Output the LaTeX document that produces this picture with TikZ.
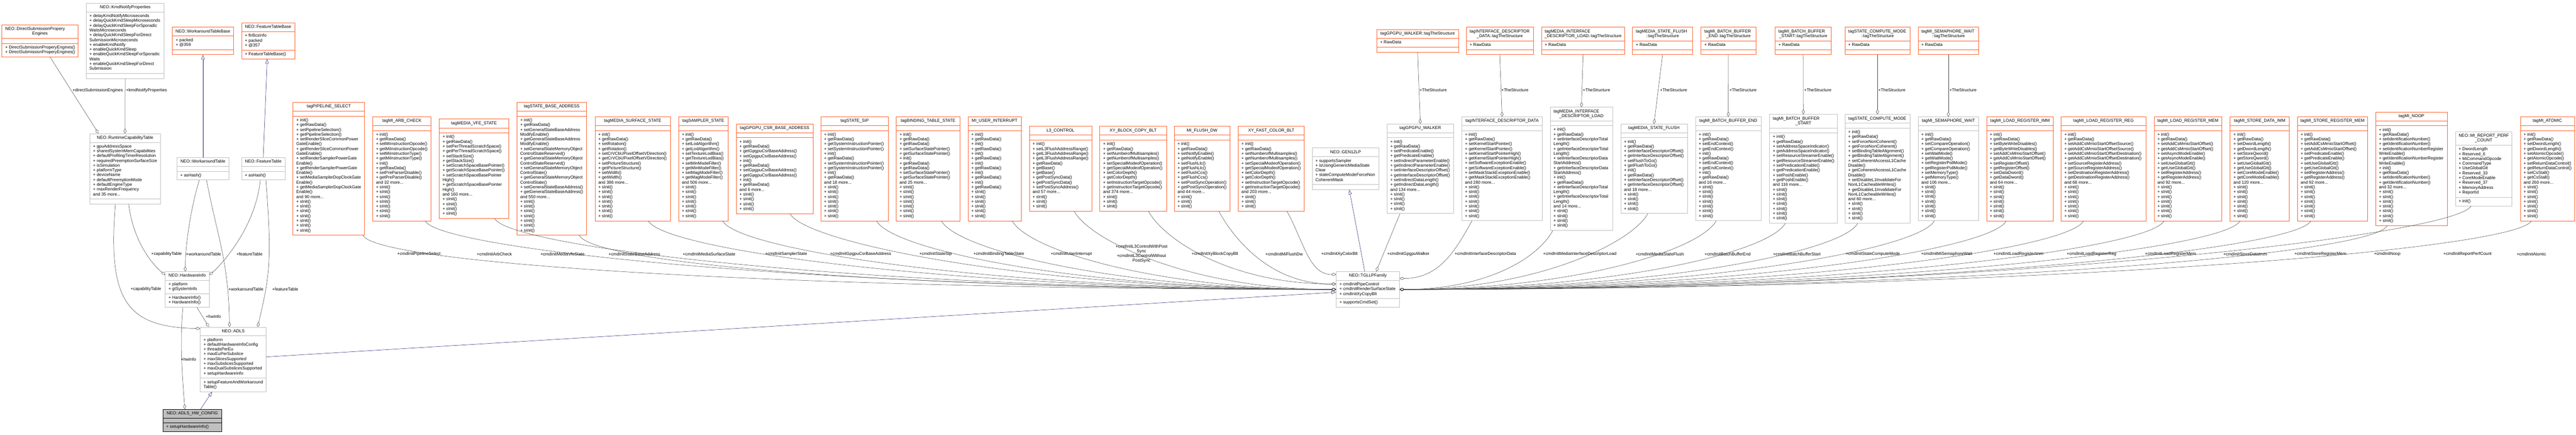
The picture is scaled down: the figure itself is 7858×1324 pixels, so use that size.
\documentclass[tikz,border=0pt]{standalone}
\usepackage{fontspec}
\setmainfont{Liberation Sans}
\usetikzlibrary{calc,arrows.meta,shapes.multipart}

\definecolor{boxgray}{HTML}{BFBFBF}
\definecolor{boxorange}{HTML}{FF5F29}
\definecolor{edgegray}{HTML}{404040}
\definecolor{navyline}{HTML}{191970}

\newlength{\colw}
\newcommand{\umlfont}{\fontsize{13}{14.6}\selectfont}
\newcommand{\firstln}[1]{\makebox[\colw][l]{#1}}
\newcommand{\sinitiii}{+ sInit()\\+ sInit()\\+ sInit()}
\newcommand{\sinitiv}{\sinitiii\\+ sInit()}
\newcommand{\sinitvi}{\sinitiii\\\sinitiii}
\newcommand{\sinitvii}{\sinitvi\\+ sInit()}

\tikzset{
  umlnode/.style={rectangle split, rectangle split parts=3, draw, fill=white,
    inner xsep=10pt, inner ysep=5.5pt, line width=1pt, font=\umlfont},
  graybox/.style={umlnode, draw=boxgray},
  orangebox/.style={umlnode, draw=boxorange, line width=1.2pt},
  focusbox/.style={umlnode, draw=black, fill=boxgray},
  has/.style={draw=edgegray, line width=0.8pt, {Diamond[open,length=15pt,width=9pt]}-},
  isa/.style={draw=navyline, line width=0.8pt, {Triangle[open,length=14pt,width=10pt]}-},
  lbl/.style={font=\umlfont, inner sep=1pt}
}

% class box: [style]{name}{x,y}{width}{title}{attributes}{methods}
\newcommand{\umlclass}[7][graybox]{%
  \setlength{\colw}{\dimexpr #4pt-20pt\relax}%
  \node[#1] (#2) at (#3) {\makebox[\colw][c]{\umlfont\begin{tabular}{@{}c@{}}#5\end{tabular}}%
    \nodepart{two}\makebox[\colw][l]{\umlfont\begin{tabular}{@{}l@{}}#6\end{tabular}}%
    \nodepart{three}\makebox[\colw][l]{\umlfont\begin{tabular}{@{}l@{}}#7\end{tabular}}};%
}

\begin{document}
\begin{tikzpicture}[x=1pt, y=-1pt]

  \fill[white] (0,0) rectangle (7858,1324);
  \useasboundingbox (0,0) rectangle (7858,1324);

  % top row: tables and structures
  \umlclass[orangebox]{dsengines}{122,124.5}{232}{\firstln{NEO::DirectSubmissionPropery}\\Engines}{}{+ DirectSubmissionProperyEngines()\\+ DirectSubmissionProperyEngines()}
  \umlclass{kmdnotify}{382,124.5}{238}{NEO::KmdNotifyProperties}{+ delayKmdNotifyMicroseconds\\+ delayQuickKmdSleepMicroseconds\\+ delayQuickKmdSleepForSporadic\\WaitsMicroseconds\\+ delayQuickKmdSleepForDirect\\SubmissionMicroseconds\\+ enableKmdNotify\\+ enableQuickKmdSleep\\+ enableQuickKmdSleepForSporadic\\Waits\\+ enableQuickKmdSleepForDirect\\Submission}{}
  \umlclass[orangebox]{wkbase}{619,124.5}{186}{NEO::WorkaroundTableBase}{+ packed\\+ @359}{}
  \umlclass[orangebox]{ftbase}{818,124.5}{162}{NEO::FeatureTableBase}{+ ftrBcsInfo\\+ packed\\+ @357}{+ FeatureTableBase()}
  \umlclass[orangebox]{tswalker}{4324.5,124.5}{249}{tagGPGPU\_WALKER::tagTheStructure}{+ RawData}{}
  \umlclass[orangebox]{tsiddata}{4575,124.5}{204}{\firstln{tagINTERFACE\_DESCRIPTOR}\\\_DATA::tagTheStructure}{+ RawData}{}
  \umlclass[orangebox]{tsmidload}{4829,124.5}{254}{\firstln{tagMEDIA\_INTERFACE}\\\_DESCRIPTOR\_LOAD::tagTheStructure}{+ RawData}{}
  \umlclass[orangebox]{tsmsflush}{5071.5,124.5}{183}{\firstln{tagMEDIA\_STATE\_FLUSH}\\::tagTheStructure}{+ RawData}{}
  \umlclass[orangebox]{tsbbend}{5272.5,124.5}{167}{\firstln{tagMI\_BATCH\_BUFFER}\\\_END::tagTheStructure}{+ RawData}{}
  \umlclass[orangebox]{tsbbstart}{5500.5,124.5}{171}{\firstln{tagMI\_BATCH\_BUFFER}\\\_START::tagTheStructure}{+ RawData}{}
  \umlclass[orangebox]{tscompute}{5727,124.5}{198}{\firstln{tagSTATE\_COMPUTE\_MODE}\\::tagTheStructure}{+ RawData}{}
  \umlclass[orangebox]{tssemwait}{5943.5,124.5}{185}{\firstln{tagMI\_SEMAPHORE\_WAIT}\\::tagTheStructure}{+ RawData}{}

  % middle row
  \umlclass{rtcap}{381.5,514}{215}{NEO::RuntimeCapabilityTable}{+ gpuAddressSpace\\+ sharedSystemMemCapabilities\\+ defaultProfilingTimerResolution\\+ requiredPreemptionSurfaceSize\\+ isSimulation\\+ platformType\\+ deviceName\\+ defaultPreemptionMode\\+ defaultEngineType\\+ maxRenderFrequency\\and 35 more...}{}
  \umlclass{wktable}{619,514}{158}{NEO::WorkaroundTable}{}{+ asHash()}
  \umlclass{fttable}{803,514}{132}{NEO::FeatureTable}{}{+ asHash()}
  \umlclass[orangebox]{pipesel}{1003,514}{218}{tagPIPELINE\_SELECT}{}{+ init()\\+ getRawData()\\+ setPipelineSelection()\\+ getPipelineSelection()\\+ setRenderSliceCommonPower\\GateEnable()\\+ getRenderSliceCommonPower\\GateEnable()\\+ setRenderSamplerPowerGate\\Enable()\\+ getRenderSamplerPowerGate\\Enable()\\+ setMediaSamplerDopClockGate\\Enable()\\+ getMediaSamplerDopClockGate\\Enable()\\and 90 more...\\\sinitvii}
  \umlclass[orangebox]{arbchk}{1226,514}{178}{tagMI\_ARB\_CHECK}{}{+ init()\\+ getRawData()\\+ setMiInstructionOpcode()\\+ getMiInstructionOpcode()\\+ setMiInstructionType()\\+ getMiInstructionType()\\+ init()\\+ getRawData()\\+ setPreParserDisable()\\+ getPreParserDisable()\\and 32 more...\\\sinitvii}
  \umlclass[orangebox]{vfestate}{1446,514}{212}{tagMEDIA\_VFE\_STATE}{}{+ init()\\+ getRawData()\\+ setPerThreadScratchSpace()\\+ getPerThreadScratchSpace()\\+ setStackSize()\\+ getStackSize()\\+ setScratchSpaceBasePointer()\\+ getScratchSpaceBasePointer()\\+ setScratchSpaceBasePointer\\High()\\+ getScratchSpaceBasePointer\\High()\\and 160 more...\\\sinitiv}
  \umlclass[orangebox]{sbaddr}{1683,514}{212}{tagSTATE\_BASE\_ADDRESS}{}{+ init()\\+ getRawData()\\+ setGeneralStateBaseAddress\\ModifyEnable()\\+ getGeneralStateBaseAddress\\ModifyEnable()\\+ setGeneralStateMemoryObject\\ControlStateReserved()\\+ getGeneralStateMemoryObject\\ControlStateReserved()\\+ setGeneralStateMemoryObject\\ControlState()\\+ getGeneralStateMemoryObject\\ControlState()\\+ setGeneralStateBaseAddress()\\+ getGeneralStateBaseAddress()\\and 550 more...\\\sinitvii}
  \umlclass[orangebox]{surfstate}{1930,514}{230}{tagMEDIA\_SURFACE\_STATE}{}{+ init()\\+ getRawData()\\+ setRotation()\\+ getRotation()\\+ setCrVCbUPixelOffsetVDirection()\\+ getCrVCbUPixelOffsetVDirection()\\+ setPictureStructure()\\+ getPictureStructure()\\+ setWidth()\\+ getWidth()\\and 386 more...\\\sinitvii}
  \umlclass[orangebox]{sampler}{2145.5,514}{151}{tagSAMPLER\_STATE}{}{+ init()\\+ getRawData()\\+ setLodAlgorithm()\\+ getLodAlgorithm()\\+ setTextureLodBias()\\+ getTextureLodBias()\\+ setMinModeFilter()\\+ getMinModeFilter()\\+ setMagModeFilter()\\+ getMagModeFilter()\\and 506 more...\\\sinitvii}
  \umlclass[orangebox]{csrbase}{2363,514}{234}{tagGPGPU\_CSR\_BASE\_ADDRESS}{}{+ init()\\+ getRawData()\\+ getGpgpuCsrBaseAddress()\\+ setGpgpuCsrBaseAddress()\\+ init()\\+ getRawData()\\+ setGpgpuCsrBaseAddress()\\+ getGpgpuCsrBaseAddress()\\+ init()\\+ getRawData()\\and 6 more...\\\sinitiv}
  \umlclass[orangebox]{statesip}{2607,514}{206}{tagSTATE\_SIP}{}{+ init()\\+ getRawData()\\+ getSystemInstructionPointer()\\+ setSystemInstructionPointer()\\+ init()\\+ getRawData()\\+ setSystemInstructionPointer()\\+ getSystemInstructionPointer()\\+ init()\\+ getRawData()\\and 18 more...\\\sinitvii}
  \umlclass[orangebox]{bindtable}{2831,514}{194}{tagBINDING\_TABLE\_STATE}{}{+ init()\\+ getRawData()\\+ getRawData()\\+ setSurfaceStatePointer()\\+ getSurfaceStatePointer()\\+ init()\\+ getRawData()\\+ getRawData()\\+ setSurfaceStatePointer()\\+ getSurfaceStatePointer()\\and 25 more...\\\sinitvii}
  \umlclass[orangebox]{userint}{3034,514}{162}{MI\_USER\_INTERRUPT}{}{+ init()\\+ getRawData()\\+ init()\\+ getRawData()\\+ init()\\+ getRawData()\\+ init()\\+ getRawData()\\+ init()\\+ getRawData()\\+ init()\\+ getRawData()\\\sinitvi}
  \umlclass[orangebox]{l3ctrl}{3235,514}{190}{L3\_CONTROL}{}{+ init()\\+ setL3FlushAddressRange()\\+ getL3FlushAddressRange()\\+ getL3FlushAddressRange()\\+ getRawData()\\+ getBase()\\+ getBase()\\+ getPostSyncData()\\+ getPostSyncData()\\+ setPostSyncAddress()\\and 57 more...\\\sinitiii}
  \umlclass[orangebox]{xyblock}{3456.5,514}{203}{XY\_BLOCK\_COPY\_BLT}{}{+ init()\\+ getRawData()\\+ setNumberofMultisamples()\\+ getNumberofMultisamples()\\+ setSpecialModeofOperation()\\+ getSpecialModeofOperation()\\+ setColorDepth()\\+ getColorDepth()\\+ setInstructionTargetOpcode()\\+ getInstructionTargetOpcode()\\and 374 more...\\\sinitiii}
  \umlclass[orangebox]{miflush}{3667,514}{170}{MI\_FLUSH\_DW}{}{+ init()\\+ getRawData()\\+ setNotifyEnable()\\+ getNotifyEnable()\\+ setFlushLlc()\\+ getFlushLlc()\\+ setFlushCcs()\\+ getFlushCcs()\\+ setPostSyncOperation()\\+ getPostSyncOperation()\\and 44 more...\\\sinitiii}
  \umlclass[orangebox]{xyfast}{3878,514}{202}{XY\_FAST\_COLOR\_BLT}{}{+ init()\\+ getRawData()\\+ setNumberofMultisamples()\\+ getNumberofMultisamples()\\+ setSpecialModeofOperation()\\+ getSpecialModeofOperation()\\+ setColorDepth()\\+ getColorDepth()\\+ setInstructionTargetOpcode()\\+ getInstructionTargetOpcode()\\and 203 more...\\\sinitiii}
  \umlclass{gen12lp}{4104.5,514}{203}{NEO::GEN12LP}{+ supportsSampler\\+ isUsingGenericMediaState\\Clear\\+ stateComputeModeForceNon\\CoherentMask}{}
  \umlclass{gpgpuwalker}{4332.5,514}{203}{tagGPGPU\_WALKER}{}{+ init()\\+ getRawData()\\+ setPredicateEnable()\\+ getPredicateEnable()\\+ setIndirectParameterEnable()\\+ getIndirectParameterEnable()\\+ setInterfaceDescriptorOffset()\\+ getInterfaceDescriptorOffset()\\+ setIndirectDataLength()\\+ getIndirectDataLength()\\and 134 more...\\\sinitiv}
  \umlclass{iddata}{4582,514}{246}{tagINTERFACE\_DESCRIPTOR\_DATA}{}{+ init()\\+ getRawData()\\+ setKernelStartPointer()\\+ getKernelStartPointer()\\+ setKernelStartPointerHigh()\\+ getKernelStartPointerHigh()\\+ setSoftwareExceptionEnable()\\+ getSoftwareExceptionEnable()\\+ setMaskStackExceptionEnable()\\+ getMaskStackExceptionEnable()\\and 280 more...\\\sinitvii}
  \umlclass{midload}{4824,514}{190}{\firstln{tagMEDIA\_INTERFACE}\\\_DESCRIPTOR\_LOAD}{}{+ init()\\+ getRawData()\\+ setInterfaceDescriptorTotal\\Length()\\+ getInterfaceDescriptorTotal\\Length()\\+ setInterfaceDescriptorData\\StartAddress()\\+ getInterfaceDescriptorData\\StartAddress()\\+ init()\\+ getRawData()\\+ setInterfaceDescriptorTotal\\Length()\\+ getInterfaceDescriptorTotal\\Length()\\and 14 more...\\\sinitiv}
  \umlclass{msflush}{5045.5,514}{203}{tagMEDIA\_STATE\_FLUSH}{}{+ init()\\+ getRawData()\\+ setInterfaceDescriptorOffset()\\+ getInterfaceDescriptorOffset()\\+ setFlushToGo()\\+ getFlushToGo()\\+ init()\\+ getRawData()\\+ setInterfaceDescriptorOffset()\\+ getInterfaceDescriptorOffset()\\and 18 more...\\\sinitiv}
  \umlclass{bbend}{5272,514}{200}{tagMI\_BATCH\_BUFFER\_END}{}{+ init()\\+ getRawData()\\+ setEndContext()\\+ getEndContext()\\+ init()\\+ getRawData()\\+ setEndContext()\\+ getEndContext()\\+ init()\\+ getRawData()\\and 16 more...\\\sinitvii}
  \umlclass{bbstart}{5501,514}{206}{\firstln{tagMI\_BATCH\_BUFFER}\\\_START}{}{+ init()\\+ getRawData()\\+ setAddressSpaceIndicator()\\+ getAddressSpaceIndicator()\\+ setResourceStreamerEnable()\\+ getResourceStreamerEnable()\\+ setPredicationEnable()\\+ getPredicationEnable()\\+ setPoshEnable()\\+ getPoshEnable()\\and 116 more...\\\sinitvii}
  \umlclass{computemode}{5727,514}{198}{tagSTATE\_COMPUTE\_MODE}{}{+ init()\\+ getRawData()\\+ setForceNonCoherent()\\+ getForceNonCoherent()\\+ setBindingTableAlignment()\\+ getBindingTableAlignment()\\+ setCoherentAccessL1Cache\\Disable()\\+ getCoherentAccessL1Cache\\Disable()\\+ setDisableL1InvalidateFor\\NonL1CacheableWrites()\\+ getDisableL1InvalidateFor\\NonL1CacheableWrites()\\and 60 more...\\\sinitiv}
  \umlclass{semwait}{5943.5,514}{185}{tagMI\_SEMAPHORE\_WAIT}{}{+ init()\\+ getRawData()\\+ setCompareOperation()\\+ getCompareOperation()\\+ setWaitMode()\\+ getWaitMode()\\+ setRegisterPollMode()\\+ getRegisterPollMode()\\+ setMemoryType()\\+ getMemoryType()\\and 106 more...\\\sinitvii}
  \umlclass[orangebox]{lrimm}{6162,514}{204}{tagMI\_LOAD\_REGISTER\_IMM}{}{+ init()\\+ getRawData()\\+ setByteWriteDisables()\\+ getByteWriteDisables()\\+ setAddCsMmioStartOffset()\\+ getAddCsMmioStartOffset()\\+ setRegisterOffset()\\+ getRegisterOffset()\\+ setDataDword()\\+ getDataDword()\\and 64 more...\\\sinitvii}
  \umlclass[orangebox]{lrreg}{6416.5,514}{259}{tagMI\_LOAD\_REGISTER\_REG}{}{+ init()\\+ getRawData()\\+ setAddCsMmioStartOffsetSource()\\+ getAddCsMmioStartOffsetSource()\\+ setAddCsMmioStartOffsetDestination()\\+ getAddCsMmioStartOffsetDestination()\\+ setSourceRegisterAddress()\\+ getSourceRegisterAddress()\\+ setDestinationRegisterAddress()\\+ getDestinationRegisterAddress()\\and 68 more...\\\sinitvii}
  \umlclass[orangebox]{lrmem}{6674,514}{206}{tagMI\_LOAD\_REGISTER\_MEM}{}{+ init()\\+ getRawData()\\+ setAddCsMmioStartOffset()\\+ getAddCsMmioStartOffset()\\+ setAsyncModeEnable()\\+ getAsyncModeEnable()\\+ setUseGlobalGtt()\\+ getUseGlobalGtt()\\+ setRegisterAddress()\\+ getRegisterAddress()\\and 92 more...\\\sinitvii}
  \umlclass[orangebox]{sdimm}{6893,514}{180}{tagMI\_STORE\_DATA\_IMM}{}{+ init()\\+ getRawData()\\+ setDwordLength()\\+ getDwordLength()\\+ setStoreQword()\\+ getStoreQword()\\+ setUseGlobalGtt()\\+ getUseGlobalGtt()\\+ setCoreModeEnable()\\+ getCoreModeEnable()\\and 120 more...\\\sinitvii}
  \umlclass[orangebox]{srmem}{7115,514}{214}{tagMI\_STORE\_REGISTER\_MEM}{}{+ init()\\+ getRawData()\\+ setAddCsMmioStartOffset()\\+ getAddCsMmioStartOffset()\\+ setPredicateEnable()\\+ getPredicateEnable()\\+ setUseGlobalGtt()\\+ getUseGlobalGtt()\\+ setRegisterAddress()\\+ getRegisterAddress()\\and 92 more...\\\sinitvii}
  \umlclass[orangebox]{noop}{7356,514}{218}{tagMI\_NOOP}{}{+ init()\\+ getRawData()\\+ setIdentificationNumber()\\+ getIdentificationNumber()\\+ setIdentificationNumberRegister\\WriteEnable()\\+ getIdentificationNumberRegister\\WriteEnable()\\+ init()\\+ getRawData()\\+ setIdentificationNumber()\\+ getIdentificationNumber()\\and 32 more...\\\sinitvii}
  \umlclass{perfcount}{7576,514}{172}{\firstln{NEO::MI\_REPORT\_PERF}\\\_COUNT}{+ DwordLength\\+ Reserved\_6\\+ MiCommandOpcode\\+ CommandType\\+ UseGlobalGtt\\+ Reserved\_33\\+ CoreModeEnable\\+ Reserved\_37\\+ MemoryAddress\\+ ReportId}{+ init()}
  \umlclass[orangebox]{atomic}{7770.5,514}{165}{tagMI\_ATOMIC}{}{+ init()\\+ getRawData()\\+ setDwordLength()\\+ getDwordLength()\\+ setAtomicOpcode()\\+ getAtomicOpcode()\\+ setReturnDataControl()\\+ getReturnDataControl()\\+ setCsStall()\\+ getCsStall()\\and 260 more...\\\sinitvii}

  % lower rows
  \umlclass{hwinfo}{571,881.5}{134}{NEO::HardwareInfo}{+ platform\\+ gtSystemInfo}{+ HardwareInfo()\\+ HardwareInfo()}
  \umlclass{tgllp}{4172.5,881.5}{193}{NEO::TGLLPFamily}{+ cmdInitPipeControl\\+ cmdInitRenderSurfaceState\\+ cmdInitXyCopyBlt}{+ supportsCmdSet()}
  \umlclass{adls}{711.5,1094.5}{201}{NEO::ADLS}{+ platform\\+ defaultHardwareInfoConfig\\+ threadsPerEu\\+ maxEuPerSubslice\\+ maxSlicesSupported\\+ maxSubslicesSupported\\+ maxDualSubslicesSupported\\+ setupHardwareInfo}{+ setupFeatureAndWorkaround\\Table()}
  \umlclass[focusbox]{adlshw}{586.5,1280.5}{179}{NEO::ADLS\_HW\_CONFIG}{}{+ setupHardwareInfo()}

  % runtime table and hardware info members
  \draw[has] ([xshift=-81pt]rtcap.north) -- ([xshift=31pt]dsengines.south);
  \draw[has] (rtcap.north) -- (kmdnotify.south);
  \draw[isa] (wkbase.south) -- (wktable.north);
  \draw[isa] ([xshift=-3pt]ftbase.south) -- (fttable.north);
  \draw[has] ([yshift=-11pt]hwinfo.north west) .. controls +(-35,-30) and +(15,120) .. ([xshift=11pt]rtcap.south);
  \draw[has] ([xshift=-6pt]hwinfo.north) .. controls +(0,-80) and +(-25,80) .. ([xshift=-11pt]wktable.south);
  \draw[has] ([yshift=-11pt]hwinfo.north east) .. controls +(30,-25) and +(-15,150) .. ([xshift=-9pt]fttable.south);

  % ADLS members
  \draw[has] ([xshift=-11.5pt]adls.north) .. controls +(-3,-200) and +(35,180) .. ([xshift=11pt]wktable.south);
  \draw[has] ([xshift=74.5pt]adls.north) .. controls +(35,-150) and +(20,250) .. ([xshift=8pt]fttable.south);
  \draw[has] ([yshift=-5pt]adls.north west) .. controls +(-220,-5) and +(-25,300) .. ([xshift=-29.5pt]rtcap.south);
  \draw[has] ([xshift=-74.5pt]adls.north) -- ([xshift=30pt]hwinfo.south);
  \draw[has] ([xshift=-22.5pt]adlshw.north) .. controls +(-8,-100) and +(-10,100) .. ([xshift=-13pt]hwinfo.south);

  % inheritance
  \draw[isa] ([xshift=-64.5pt]adls.south) -- ([xshift=25.5pt]adlshw.north);
  \draw[isa] ([yshift=-8.5pt]tgllp.west) -- ([yshift=7.5pt]adls.east);
  \draw[isa] ([xshift=11.5pt]gen12lp.south) -- ([xshift=-9.5pt]tgllp.north);

  % commands held by the family, left and right
  \foreach \cls/\dx/\dy in {pipesel/104/0, arbchk/71/0, vfestate/63/0, sbaddr/84/0, surfstate/48/0,
      sampler/59/0, csrbase/47/0, statesip/67/0, bindtable/41/0, userint/54/0, l3ctrl/42/0,
      xyblock/47/16.5, miflush/51/16.5, xyfast/48/45.5}
    \draw[has] let \p1=([yshift=\dy pt]tgllp.west), \p2=([xshift=\dx pt]\cls.south) in
      (\p1) .. controls ({\x1-0.55*(\x1-\x2)},\y1) and ({\x2+50pt},{\y2-90pt}) .. (\p2);
  \foreach \cls/\dx/\dy in {iddata/-92/33.5, midload/-87/0, msflush/-19/0, bbend/-37/0, bbstart/-55/0,
      computemode/-60/0, semwait/-43/0, lrimm/-42/0, lrreg/-61/0, lrmem/-73/0, sdimm/-60/0,
      srmem/-66/0, noop/-74/0, perfcount/-38/0, atomic/-49/0}
    \draw[has] let \p1=([yshift=\dy pt]tgllp.east), \p2=([xshift=\dx pt]\cls.south) in
      (\p1) .. controls ({\x1+0.55*(\x2-\x1)},\y1) and ({\x2-50pt},{\y2-90pt}) .. (\p2);
  \draw[has] ([xshift=25.5pt]tgllp.north) -- ([xshift=-62pt]gpgpuwalker.south);

  % inner structures
  \foreach \ts/\cls in {tswalker/gpgpuwalker, tsiddata/iddata, tsmidload/midload, tsmsflush/msflush,
      tsbbend/bbend, tsbbstart/bbstart, tscompute/computemode, tssemwait/semwait}
    \draw[has] (\cls.north) -- (\ts.south);

  % labels
  \node[lbl] (ldsengines) at (298,275) {+directSubmissionEngines};
  \node[lbl] (lkmdnotify) at (447,275) {+kmdNotifyProperties};
  \node[lbl] (lcaphw) at (508,774) {+capabilityTable};
  \node[lbl] (lwkhw) at (621,774) {+workaroundTable};
  \node[lbl] (lfthw) at (761,774) {+featureTable};
  \node[lbl] (lcapadls) at (445,881) {+capabilityTable};
  \node[lbl] (lwkadls) at (750,881) {+workaroundTable};
  \node[lbl] (lftadls) at (870,881) {+featureTable};
  \node[lbl] (lhwadls) at (651,965) {+hwInfo};
  \node[lbl] (lhwcfg) at (575,1094) {+hwInfo};
  \foreach \ts/\x in {tswalker/4372, tsiddata/4621, tsmidload/4870, tsmsflush/5105,
      tsbbend/5317, tsbbstart/5545, tscompute/5771, tssemwait/5988}
    \node[lbl] (l\ts) at (\x,274) {+TheStructure};
  \foreach \cls/\x/\t in {pipesel/1278/PipelineSelect, arbchk/1508/ArbCheck, vfestate/1716/MediaVfeState,
      sbaddr/1935/StateBaseAddress, surfstate/2163/MediaSurfaceState, sampler/2398/SamplerState,
      csrbase/2625/GpgpuCsrBaseAddress, statesip/2854/StateSip, bindtable/3047/BindingTableState,
      userint/3268/UserInterrupt, xyblock/3706/XyBlockCopyBlt, miflush/3917/MiFlushDw,
      xyfast/4086/XyColorBlt, gpgpuwalker/4296/GpgpuWalker, iddata/4531/InterfaceDescriptorData,
      midload/4819/MediaInterfaceDescriptorLoad, msflush/5063/MediaStateFlush, bbend/5270/BatchBufferEnd,
      bbstart/5481/BatchBufferStart, computemode/5713/StateComputeMode, semwait/5938/MiSemaphoreWait,
      lrimm/6157/LoadRegisterImm, lrreg/6380/LoadRegisterReg, lrmem/6621/LoadRegisterMem,
      sdimm/6849/StoreDataImm, srmem/7078/StoreRegisterMem, noop/7282/Noop,
      perfcount/7527/ReportPerfCount, atomic/7722/Atomic}
    \node[lbl] (l\cls) at (\x,774) {+cmdInit\t};
  \node[lbl, align=center] (ll3ctrl) at (3482,773) {+cmdInitL3ControlWithPost\\Sync\\+cmdInitL3ControlWithout\\PostSync};

\end{tikzpicture}
\end{document}
